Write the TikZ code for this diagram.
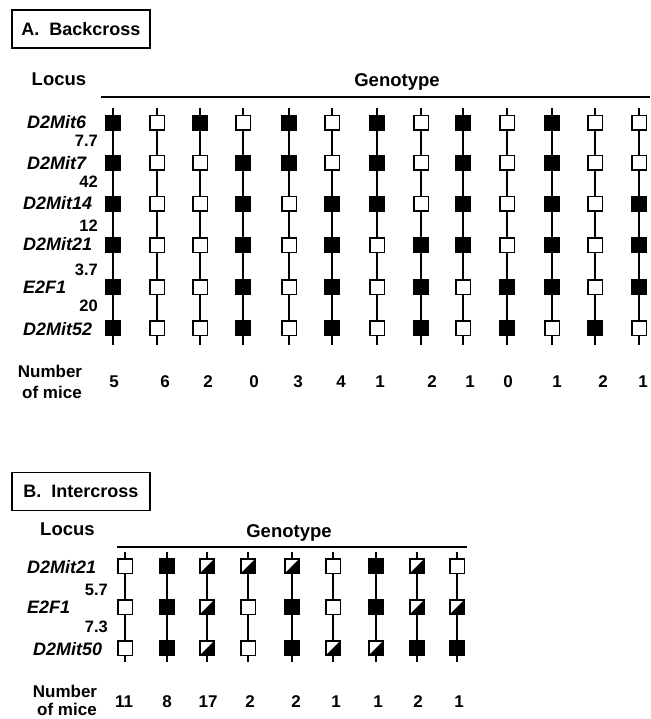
\documentclass[tikz,border=0pt]{standalone}
\usepackage{fontspec}
\newfontfamily\lbl{Liberation Sans}
\tikzset{
  sq/.style={draw, line width=1.5pt, minimum size=14.5pt, inner sep=0pt, fill=white},
  gF/.style={sq, fill=black},
  gO/.style={sq},
  gH/.style={sq, path picture={\fill[black] (path picture bounding box.south west) -- (path picture bounding box.south east) -- (path picture bounding box.north east) -- cycle;}},
  stem/.style={line width=1.3pt},
  rule/.style={line width=1.5pt},
  txt/.style={inner sep=0pt, font=\lbl\bfseries\fontsize{18.5}{21}\selectfont},
  loc/.style={inner sep=0pt, anchor=base west, font=\lbl\bfseries\itshape\fontsize{18}{21}\selectfont},
  dist/.style={inner sep=0pt, anchor=base east, font=\lbl\bfseries\fontsize{16.5}{18}\selectfont},
  cnt/.style={inner sep=0pt, anchor=base, font=\lbl\bfseries\fontsize{17}{19}\selectfont},
  numlbl/.style={inner sep=0pt, anchor=base, font=\lbl\bfseries\fontsize{17}{19}\selectfont},
  titlebox/.style={draw, line width=1.2pt, minimum width=138pt, minimum height=38pt, inner sep=0pt, font=\lbl\bfseries\fontsize{18}{21}\selectfont}
}
% backcross column: #1 index, #2 x, #3-#8 genotypes
\newcommand\gcol[8]{%
  \coordinate (at#1) at (#2,108);
  \coordinate (ab#1) at (#2,345);
  \node[g#3] (a#1r1) at (#2,123) {};
  \node[g#4] (a#1r2) at (#2,163) {};
  \node[g#5] (a#1r3) at (#2,204) {};
  \node[g#6] (a#1r4) at (#2,245) {};
  \node[g#7] (a#1r5) at (#2,287) {};
  \node[g#8] (a#1r6) at (#2,328) {};
  \draw[stem] (at#1) -- (a#1r1) -- (a#1r2) -- (a#1r3) -- (a#1r4) -- (a#1r5) -- (a#1r6) -- (ab#1);
}
% intercross column
\newcommand\icol[5]{%
  \coordinate (bt#1) at (#2,552);
  \coordinate (bb#1) at (#2,662);
  \node[g#3] (b#1r1) at (#2,566) {};
  \node[g#4] (b#1r2) at (#2,607) {};
  \node[g#5] (b#1r3) at (#2,648) {};
  \draw[stem] (bt#1) -- (b#1r1) -- (b#1r2) -- (b#1r3) -- (bb#1);
}
\begin{document}
\begin{tikzpicture}[x=1pt, y=-1pt]
\useasboundingbox (0,0) rectangle (650,719);
% ---------- A ----------
\node[titlebox] (boxA) at (81,29) {A.\ \ Backcross};
\node[txt, anchor=base west] (locA) at (31.5,86) {Locus};
\node[txt, anchor=base] (genA) at (397,87) {Genotype};
\coordinate (hA1) at (101,97);
\coordinate (hA2) at (650,97);
\draw[rule] (hA1) -- (hA2);

\node[loc] (lA1) at (27,128.5) {D2Mit6};
\node[loc] (lA2) at (27,170) {D2Mit7};
\node[loc] (lA3) at (23,210) {D2Mit14};
\node[loc] (lA4) at (23,250) {D2Mit21};
\node[loc] (lA5) at (23,293) {E2F1};
\node[loc] (lA6) at (23,335) {D2Mit52};

\node[dist] (dA1) at (98,147) {7.7};
\node[dist] (dA2) at (98,188) {42};
\node[dist] (dA3) at (98,231) {12};
\node[dist] (dA4) at (98,275) {3.7};
\node[dist] (dA5) at (98,311) {20};

\gcol{1}{113}{F}{F}{F}{F}{F}{F}
\gcol{2}{157}{O}{O}{O}{O}{O}{O}
\gcol{3}{200}{F}{O}{O}{O}{O}{O}
\gcol{4}{243}{O}{F}{F}{F}{F}{F}
\gcol{5}{289}{F}{F}{O}{O}{O}{O}
\gcol{6}{332}{O}{O}{F}{F}{F}{F}
\gcol{7}{377}{F}{F}{F}{O}{O}{O}
\gcol{8}{421}{O}{O}{O}{F}{F}{F}
\gcol{9}{463}{F}{F}{F}{F}{O}{O}
\gcol{10}{507}{O}{O}{O}{O}{F}{F}
\gcol{11}{552}{F}{F}{F}{F}{F}{O}
\gcol{12}{595}{O}{O}{O}{O}{O}{F}
\gcol{13}{639}{O}{O}{F}{F}{F}{O}

\node[numlbl] (nA1) at (50,377) {Number};
\node[numlbl] (nA2) at (52,398) {of mice};
\foreach \xx/\v [count=\k] in {114/5,165/6,208/2,254/0,298/3,341/4,380/1,432/2,470/1,508/0,557/1,603/2,643/1}
  \node[cnt] (cA\k) at (\xx,387) {\v};

% ---------- B ----------
\node[titlebox] (boxB) at (81,491.5) {B.\ \ Intercross};
\node[txt, anchor=base west] (locB) at (40,535) {Locus};
\node[txt, anchor=base] (genB) at (289,537) {Genotype};
\coordinate (hB1) at (117,547);
\coordinate (hB2) at (467,547);
\draw[rule] (hB1) -- (hB2);

\node[loc] (lB1) at (27,573) {D2Mit21};
\node[loc] (lB2) at (27,613) {E2F1};
\node[loc] (lB3) at (33,655) {D2Mit50};

\node[dist] (dB1) at (108,595) {5.7};
\node[dist] (dB2) at (108,632) {7.3};

\icol{1}{125}{O}{O}{O}
\icol{2}{167}{F}{F}{F}
\icol{3}{207}{H}{H}{H}
\icol{4}{248}{H}{O}{O}
\icol{5}{292}{H}{F}{F}
\icol{6}{333}{O}{O}{H}
\icol{7}{376}{F}{F}{H}
\icol{8}{417}{H}{H}{F}
\icol{9}{457}{O}{H}{F}

\node[numlbl] (nB1) at (65,697) {Number};
\node[numlbl] (nB2) at (67,715) {of mice};
\foreach \xx/\v [count=\k] in {124/11,167/8,208/17,250/2,296/2,336/1,378/1,418/2,459/1}
  \node[cnt] (cB\k) at (\xx,707) {\v};
\end{tikzpicture}
\end{document}
